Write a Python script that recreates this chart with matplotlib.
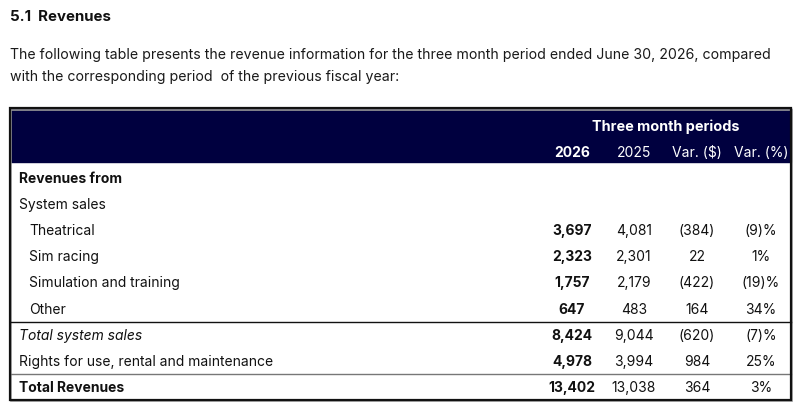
import matplotlib.pyplot as plt
from matplotlib.patches import Rectangle

plt.rcParams['font.family'] = ['Inter', 'DejaVu Sans']

title = '5.1  Revenues'
intro = ['The following table presents the revenue information for the three month period ended June 30, 2026, compared',
         'with the corresponding period  of the previous fiscal year:']
group_header = 'Three month periods'
col_headers = ['2026', '2025', 'Var. ($)', 'Var. (%)']

row_labels = ['Revenues from', 'System sales', 'Theatrical', 'Sim racing', 'Simulation and training',
              'Other', 'Total system sales', 'Rights for use, rental and maintenance', 'Total Revenues']
rev_2026 = ['', '', '3,697', '2,323', '1,757', '647', '8,424', '4,978', '13,402']
rev_2025 = ['', '', '4,081', '2,301', '2,179', '483', '9,044', '3,994', '13,038']
var_usd = ['', '', '(384)', '22', '(422)', '164', '(620)', '984', '364']
var_pct = ['', '', '(9)%', '1%', '(19)%', '34%', '(7)%', '25%', '3%']

navy = '#00003f'
W, H = 804, 414

fig = plt.figure(figsize=(W / 100, H / 100), dpi=100)
ax = fig.add_axes([0, 0, 1, 1])
ax.set_xlim(0, W)
ax.set_ylim(H, 0)
ax.axis('off')

# heading and intro text
ax.text(10, 17, title, fontsize=10.8, fontweight='bold', va='center', color='#111111')
ax.text(10, 55, intro[0], fontsize=10.2, va='center', color='#1a1a1a')
ax.text(10, 77, intro[1], fontsize=10.2, va='center', color='#1a1a1a')

# table box
left, right, top, bottom = 10, 791, 109, 401
head_bottom = 163
ax.add_patch(Rectangle((left, top), right - left, head_bottom - top, color=navy, zorder=1))
ax.add_patch(Rectangle((left + 1.5, top + 1.5), right - left, bottom - top, fill=False,
                       edgecolor='#999999', lw=1.2, zorder=1))
ax.add_patch(Rectangle((left, top), right - left, bottom - top, fill=False,
                       edgecolor='#111111', lw=1.6, zorder=3))

col_x = [572, 634, 697, 761]
ax.text(666, 127, group_header, color='white', fontsize=10.4, fontweight='bold',
        ha='center', va='center')
for i, h in enumerate(col_headers):
    ax.text(col_x[i], 153, h, color='white', fontsize=10,
            fontweight='bold' if i == 0 else 'normal', ha='center', va='center')

row_y = [179, 205, 231, 257, 283, 310, 336, 362, 388]
for i, lab in enumerate(row_labels):
    y = row_y[i]
    x = 29 if 2 <= i <= 5 else 19
    weight = 'bold' if i in (0, 8) else 'normal'
    style = 'italic' if i == 6 else 'normal'
    ax.text(x, y, lab, fontsize=10, fontweight=weight, fontstyle=style,
            va='center', color='#111111')
    vals = [rev_2026[i], rev_2025[i], var_usd[i], var_pct[i]]
    for j, v in enumerate(vals):
        ax.text(col_x[j], y, v, fontsize=10, fontweight='bold' if j == 0 else 'normal',
                ha='center', va='center', color='#111111')

# separator lines
ax.plot([left, right], [323, 323], color='#111111', lw=1.0, zorder=2)
ax.plot([left, right], [375, 375], color='#777777', lw=1.0, zorder=2)

fig.savefig('out.png', dpi=100, facecolor='white')
